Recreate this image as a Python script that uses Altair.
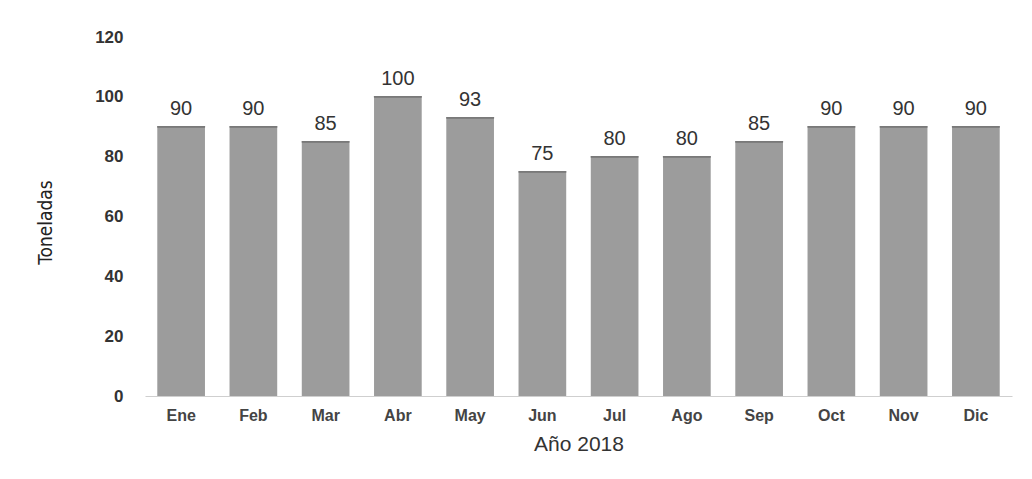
import altair as alt
import pandas as pd

meses = ["Ene", "Feb", "Mar", "Abr", "May", "Jun", "Jul", "Ago", "Sep", "Oct", "Nov", "Dic"]
toneladas = [90, 90, 85, 100, 93, 75, 80, 80, 85, 90, 90, 90]
y_ticks = [0, 20, 40, 60, 80, 100, 120]

df = pd.DataFrame({"mes": meses, "t": toneladas})

x = alt.X("mes:N", sort=meses, title="Año 2018",
          scale=alt.Scale(paddingInner=0.34, paddingOuter=0.17),
          axis=alt.Axis(labelAngle=0, labelFont="Liberation Sans", labelFontSize=16,
                        labelFontWeight="bold", labelColor="#444444", labelPadding=11,
                        ticks=False, domainColor="#cfcfcf", domainWidth=1,
                        titleFont="Liberation Sans", titleFontSize=21, titleFontWeight="normal",
                        titleColor="#333333", titlePadding=10))
y = alt.Y("t:Q", title="Toneladas",
          scale=alt.Scale(domain=[0, 120]),
          axis=alt.Axis(values=y_ticks, grid=False, domain=False, ticks=False,
                        labelFont="Liberation Sans", labelFontSize=17, labelFontWeight="bold",
                        labelColor="#333333", labelPadding=22,
                        titleFont="DejaVu Sans Condensed", titleFontSize=19,
                        titleFontWeight="normal", titleColor="#222222",
                        titleX=-100, titleY=185, titleAlign="center", titleBaseline="middle"))

bars = alt.Chart(df).mark_bar(color="#9c9c9c").encode(x=x, y=y)
tops = alt.Chart(df).mark_tick(color="#4a4a4a", thickness=1.5, size=48, orient="horizontal").encode(
    x=alt.X("mes:N", sort=meses), y="t:Q")
labels = alt.Chart(df).mark_text(dy=-18, fontSize=20, font="Liberation Sans", color="#333333").encode(
    x=alt.X("mes:N", sort=meses), y="t:Q", text="t:Q")

chart = (bars + tops + labels).properties(
    width=867, height=359,
    autosize=alt.AutoSizeParams(type="none"),
    padding={"left": 137, "top": 29, "right": 8, "bottom": 70},
).configure(background="white").configure_view(stroke=None)

chart.save("out.html", embed_options={"renderer": "svg", "actions": False})
